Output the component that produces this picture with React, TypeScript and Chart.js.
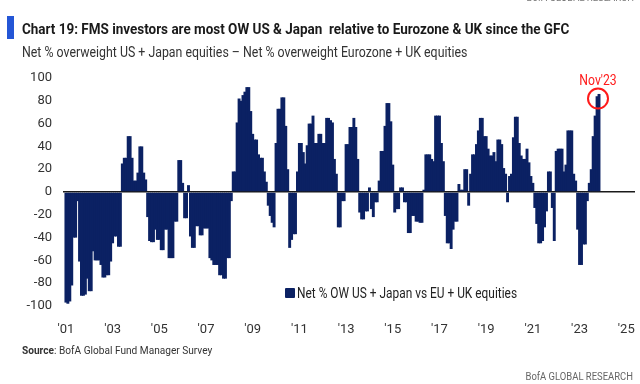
import React, { useEffect, useRef } from 'react';
import { Chart, registerables } from 'chart.js';

Chart.register(...registerables);

// Monthly net % OW US + Japan minus net % OW Eurozone + UK, Jan 2001 .. Nov 2023
const netOW: number[] = [
  // 2001
  -97, -98, -96, -82, -40, -40, -8, -61, -91, -91, -90, -76,
  // 2002
  -87, -87, -52, -60, -60, -60, -64, -75, -75, -73, -73, -61,
  // 2003
  -45, -39, -39, -48, -48, 25, 30, 30, 49, 49, 30, 10,
  // 2004
  10, 17, 40, 40, 17, 11, -22, -43, -44, -44, -33, -42,
  // 2005
  -42, -51, -51, -33, -33, -58, -58, -58, -26, -26, 28, 28,
  // 2006
  8, -23, -23, 6, -39, -49, -49, -30, -30, -38, -38, -32,
  // 2007
  -32, -32, -58, -60, -64, -64, -64, -73, -73, -76, -76, -58,
  // 2008
  -58, -8, 18, 18, 61, 82, 80, 85, 88, 92, 92, 71,
  // 2009
  51, 46, 46, 33, 30, 30, 18, 9, -12, -21, -27, -31,
  // 2010
  43, 73, 73, 83, 83, 58, 20, -49, -42, -37, -37, 18,
  // 2011
  43, 43, 35, 25, 41, 60, 60, 67, 43, 43, 51, 51,
  // 2012
  43, 43, 65, 65, 63, 61, 29, 16, -31, -31, -8, -8,
  // 2013
  42, 42, 57, 57, 65, 57, 29, -18, -24, -24, -17, -17,
  // 2014
  4, -15, -22, -9, -9, 10, 36, 36, 58, 78, 78, 62,
  // 2015
  24, -18, -15, -15, 4, 4, -9, -9, -36, -36, -21, -21,
  // 2016
  -26, -26, -27, -27, 2, 33, 33, 33, 29, 27, 67, 67,
  // 2017
  67, 43, 27, -21, -45, -45, -50, -33, -26, -26, 7, 2,
  // 2018
  2, 20, 20, -12, 16, 33, 33, 42, 54, 65, 65, 49,
  // 2019
  49, 38, 32, 32, 35, 27, 46, 46, 42, 21, 16, -9,
  // 2020
  14, 16, 48, 66, 66, 43, 32, 29, 29, 38, 26, 14,
  // 2021
  8, -14, -28, -45, -45, -43, -31, -17, 18, 18, -14, -43,
  // 2022
  36, 38, 38, 38, 18, 24, 54, 54, 54, 16, 10, -33,
  // 2023 (Jan..Nov)
  -64, -64, -46, -46, -8, 8, 20, 49, 67, 84, 86,
];

// Category axis: one slot per month, Dec 2000 .. May 2025
const firstCategory = { year: 2000, month: 12 };
const categoryCount = 294;
const seriesStartIndex = 1; // Jan 2001

const xTickYears: number[] = [2001, 2003, 2005, 2007, 2009, 2011, 2013, 2015, 2017, 2019, 2021, 2023, 2025];
const xTickLabels: string[] = ["'01", "'03", "'05", "'07", "'09", "'11", "'13", "'15", "'17", "'19", "'21", "'23", "'25"];

const yMin = -100;
const yMax = 100;
const yStep = 20;

const seriesLabel = 'Net % OW US + Japan vs EU + UK equities';
const highlightLabel = "Nov'23";

const categories: { year: number; month: number }[] = [];
for (let i = 0; i < categoryCount; i++) {
  const m0 = firstCategory.month - 1 + i;
  categories.push({ year: firstCategory.year + Math.floor(m0 / 12), month: (m0 % 12) + 1 });
}
const catLabels = categories.map((c) => `${c.year}-${String(c.month).padStart(2, '0')}`);
const seriesData: (number | null)[] = categories.map((_, i) => {
  const k = i - seriesStartIndex;
  return k >= 0 && k < netOW.length ? netOW[k] : null;
});

const FONT = "'Roboto', 'Liberation Sans', sans-serif";
const NAVY = '#0b2163';

const highlightPlugin = {
  id: 'highlightLast',
  afterDatasetsDraw(chart: any) {
    const meta = chart.getDatasetMeta(0);
    const idx = seriesStartIndex + netOW.length - 1;
    const el = meta.data[idx];
    if (!el) return;
    const ctx = chart.ctx;
    const x = el.x - 1;
    const y = chart.scales.y.getPixelForValue(netOW[netOW.length - 1] - 4);
    ctx.save();
    ctx.strokeStyle = '#ff1a1a';
    ctx.lineWidth = 2;
    ctx.beginPath();
    ctx.arc(x, y, 10, 0, Math.PI * 2);
    ctx.stroke();
    ctx.fillStyle = '#ff1a1a';
    ctx.font = `14px ${FONT}`;
    ctx.textAlign = 'center';
    ctx.textBaseline = 'middle';
    ctx.translate(x, y - 17);
    ctx.scale(0.87, 1);
    ctx.fillText(highlightLabel, 0, 0);
    ctx.restore();
  },
};

export default function App() {
  const ref = useRef<HTMLCanvasElement | null>(null);

  useEffect(() => {
    if (!ref.current) return;
    const chart = new Chart(ref.current, {
      type: 'bar',
      data: {
        labels: catLabels,
        datasets: [
          {
            label: seriesLabel,
            data: seriesData,
            backgroundColor: NAVY,
            borderWidth: 0,
            barPercentage: 1.5,
            categoryPercentage: 1,
          },
        ],
      },
      options: {
        animation: false,
        responsive: false,
        maintainAspectRatio: false,
        layout: { padding: { left: 0, right: 5, top: 78, bottom: 38 } },
        plugins: {
          legend: { display: false },
          tooltip: { enabled: false },
        },
        scales: {
          x: {
            type: 'category',
            offset: true,
            grid: { display: false, drawTicks: false },
            border: { display: false },
            afterFit: (s: any) => {
              s.height = 40;
              s.paddingLeft = 0;
              s.paddingRight = 0;
            },
            ticks: {
              autoSkip: false,
              maxRotation: 0,
              minRotation: 0,
              padding: 16,
              color: '#333333',
              font: { family: FONT, size: 13 },
              callback: (_v: any, i: number) => {
                const c = categories[i];
                if (!c || c.month !== 1) return '';
                const k = xTickYears.indexOf(c.year);
                return k >= 0 ? xTickLabels[k] : '';
              },
            },
          },
          y: {
            min: yMin,
            max: yMax,
            z: 1,
            border: { display: false },
            afterFit: (s: any) => {
              s.width = 63;
            },
            grid: {
              drawTicks: false,
              color: (c: any) => (c.tick && c.tick.value === 0 ? '#1a1a1a' : 'rgba(0,0,0,0)'),
              lineWidth: (c: any) => (c.tick && c.tick.value === 0 ? 1.6 : 0),
            },
            ticks: {
              stepSize: yStep,
              padding: 11,
              color: '#333333',
              font: { family: FONT, size: 13 },
            },
          },
        },
      },
      plugins: [highlightPlugin],
    });
    return () => chart.destroy();
  }, []);

  const abs = (s: React.CSSProperties): React.CSSProperties => ({ position: 'absolute', whiteSpace: 'nowrap', ...s });
  const squeeze = (k: number, origin = 'left'): React.CSSProperties => ({
    transform: `scaleX(${k})`,
    transformOrigin: `${origin} center`,
  });

  return (
    <div
      style={{
        position: 'absolute',
        left: 0,
        top: 0,
        width: 640,
        height: 384,
        overflow: 'hidden',
        background: '#ffffff',
        fontFamily: FONT,
        color: '#222',
      }}
    >
      <canvas ref={ref} width={640} height={384} style={abs({ left: 0, top: 0, width: 640, height: 384 })} />
      <div style={abs({ right: 6, top: -8, fontSize: 11, lineHeight: '12px', color: '#777', ...squeeze(0.86, 'right') })}>
        BofA GLOBAL RESEARCH
      </div>
      <div style={abs({ left: 7, top: 16, width: 7, height: 23, background: '#2456d6' })} />
      <div
        style={abs({
          left: 22,
          top: 20,
          fontSize: 15,
          lineHeight: '19px',
          fontWeight: 700,
          color: '#1a1a1a',
          ...squeeze(0.898),
        })}
      >
        Chart 19: FMS investors are most OW US &amp; Japan&nbsp; relative to Eurozone &amp; UK since the GFC
      </div>
      <div style={abs({ left: 22, top: 43, fontSize: 14, lineHeight: '18px', color: '#333', ...squeeze(0.882) })}>
        Net % overweight US + Japan equities – Net % overweight Eurozone + UK equities
      </div>
      <div style={abs({ left: 285, top: 288, width: 10, height: 10, background: NAVY, borderRadius: 1 })} />
      <div style={abs({ left: 297, top: 284, fontSize: 14, lineHeight: '18px', color: '#222', ...squeeze(0.85) })}>
        {seriesLabel}
      </div>
      <div style={abs({ left: 22, top: 344, fontSize: 11, lineHeight: '14px', color: '#333', ...squeeze(0.92) })}>
        <b>Source</b>: BofA Global Fund Manager Survey
      </div>
      <div style={abs({ right: 7, top: 370, fontSize: 11, lineHeight: '14px', color: '#666', ...squeeze(0.86, 'right') })}>
        BofA GLOBAL RESEARCH
      </div>
    </div>
  );
}
